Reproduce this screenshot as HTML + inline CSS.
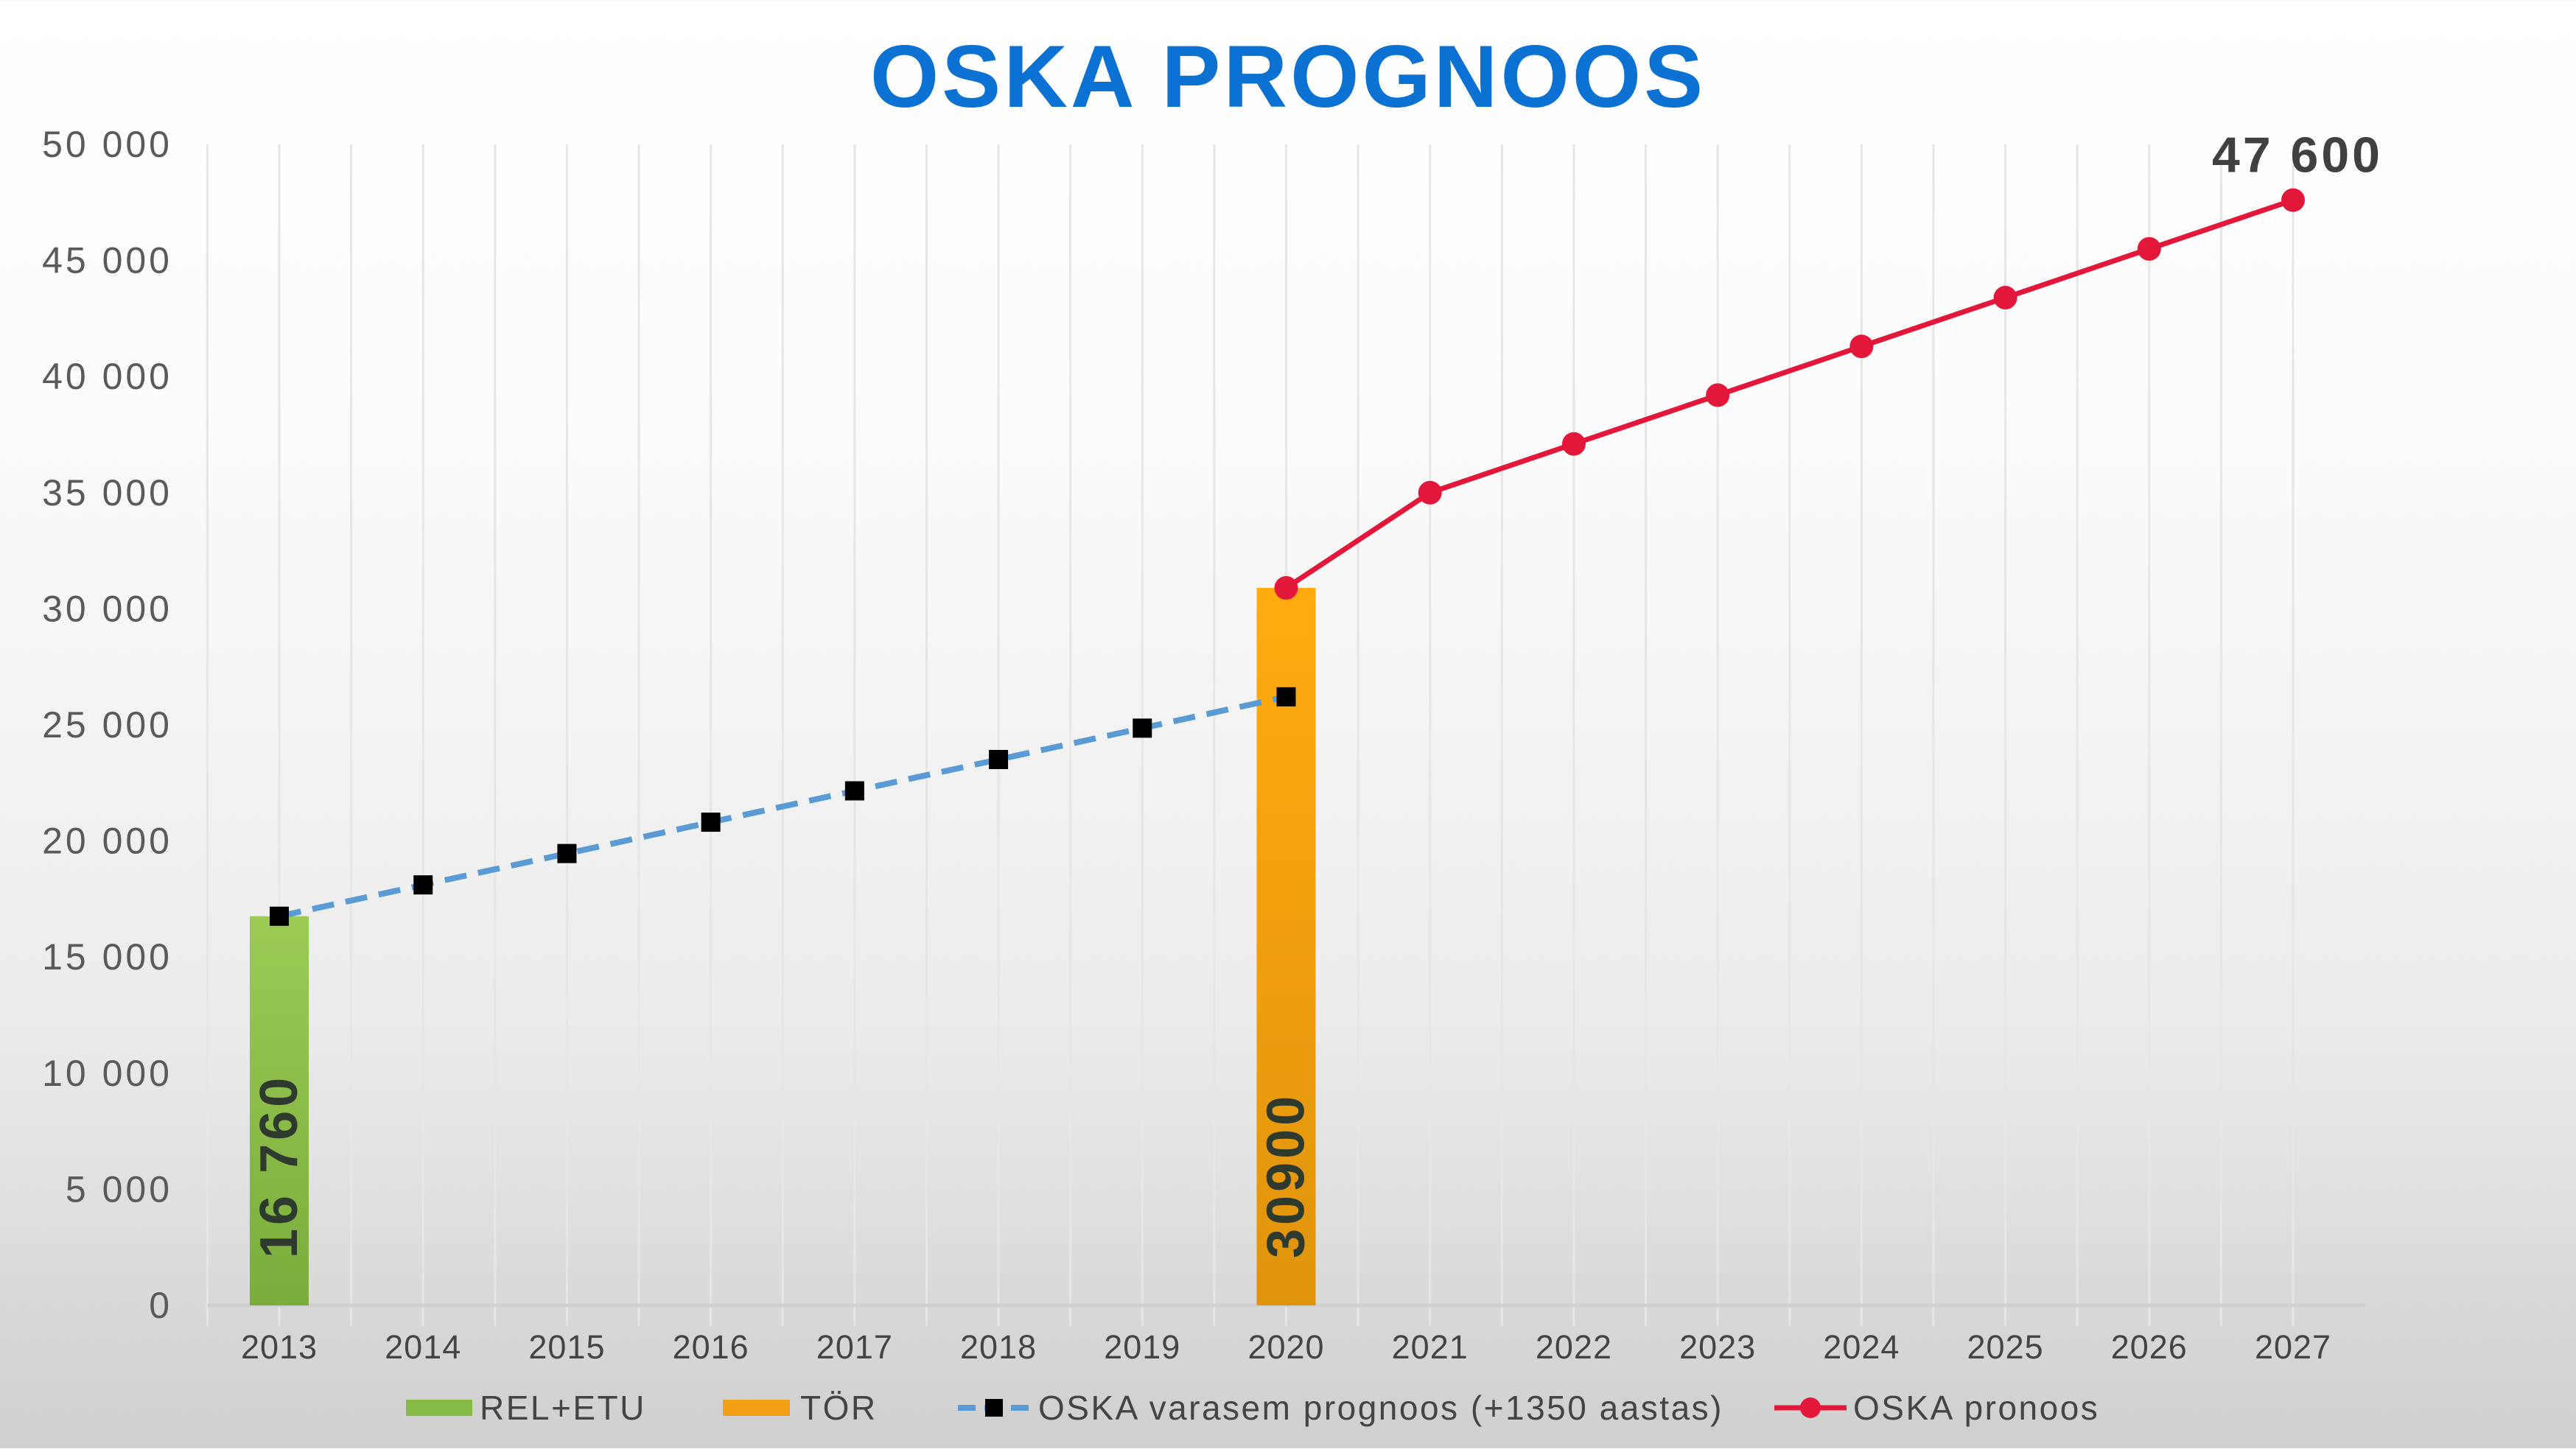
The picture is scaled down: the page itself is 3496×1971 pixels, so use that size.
<!DOCTYPE html>
<html><head><meta charset="utf-8"><style>
html,body{margin:0;padding:0;}
body{width:3496px;height:1966px;overflow:hidden;background:linear-gradient(#ffffff 0%,#fbfbfb 30%,#ececec 70%,#cfcfcf 100%);font-family:"Liberation Sans",sans-serif;}
</style></head><body>
<svg width="3496" height="1966" viewBox="0 0 3496 1966" xmlns="http://www.w3.org/2000/svg" id="chart">
<defs>
<linearGradient id="gg" x1="0" y1="0" x2="0" y2="1"><stop offset="0" stop-color="#9bcb55"/><stop offset="1" stop-color="#7aad3c"/></linearGradient>
<linearGradient id="og" x1="0" y1="0" x2="0" y2="1"><stop offset="0" stop-color="#ffab10"/><stop offset="1" stop-color="#e0940c"/></linearGradient>
</defs>
<text x="1748" y="145" text-anchor="middle" font-size="120" font-weight="600" letter-spacing="4" fill="#0b72d3" font-family="Liberation Sans, sans-serif">OSKA PROGNOOS</text>
<g id="grid"></g><g id="marks"></g><g id="labels"></g>
</svg>
<script>
const years = ["2013","2014","2015","2016","2017","2018","2019","2020","2021","2022","2023","2024","2025","2026","2027"];
const yTicks = [0,5000,10000,15000,20000,25000,30000,35000,40000,45000,50000];
const yTickLabels = ["0","5 000","10 000","15 000","20 000","25 000","30 000","35 000","40 000","45 000","50 000"];
const barRelEtu = [16760];      // 2013
const barTor = [30900];         // 2020
const earlierForecast = [16760,18110,19460,20810,22160,23510,24860,26210]; // 2013-2020
const oskaForecast = [30900,35000,37100,39200,41300,43400,45500,47600];    // 2020-2027

const NS="http://www.w3.org/2000/svg";
const X0=379, DX=(3112-379)/14, Y0=1772, YT=196, YMAX=50000;
const x=i=>X0+i*DX;
const y=v=>Y0-(v/YMAX)*(Y0-YT);
function el(t,a,p){const e=document.createElementNS(NS,t);for(const k in a)e.setAttribute(k,a[k]);p.appendChild(e);return e;}
const grid=document.getElementById('grid'),marks=document.getElementById('marks'),labels=document.getElementById('labels');
for(let k=0;k<=29;k++){const gx=X0-DX/2+k*DX/2;
 const g=el('line',{x1:gx,x2:gx,y1:YT,y2:Y0+28,stroke:'#e6e6e6','stroke-width':3},grid);
 }
const ax=el('line',{x1:X0-DX/2,x2:X0+14.5*DX,y1:Y0,y2:Y0,stroke:'#d0d0d0','stroke-width':5},grid);

yTicks.forEach((v,i)=>{const t=el('text',{x:234,y:y(v)+17,'text-anchor':'end','font-size':50,'letter-spacing':4,fill:'#5a5a5a'},labels);
 t.textContent=yTickLabels[i];});
years.forEach((yr,i)=>{const t=el('text',{x:x(i),y:1844,'text-anchor':'middle','font-size':45,'letter-spacing':1,fill:'#444'},labels);
 t.textContent=yr;});
function bar(i,v,fill,name,label){
 const r=el('rect',{x:x(i)-40,y:y(v),width:80,height:Y0-y(v),fill:fill},marks);
 
 const cx=x(i)+24,cy=Y0-64;
 const t=el('text',{x:cx,y:cy,transform:`rotate(-90 ${cx} ${cy})`,'font-size':72,'font-weight':'bold','letter-spacing':5,fill:'#2f3a2f'},labels);
 t.textContent=label;}
bar(0,barRelEtu[0],'url(#gg)','bar-rel-etu-2013','16 760');
bar(7,barTor[0],'url(#og)','bar-tor-2020','30900');
let d=earlierForecast.map((v,i)=>(i?'L':'M')+x(i)+' '+y(v)).join(' ');
const l1=el('path',{d:d,fill:'none',stroke:'#5b9bd5','stroke-width':8,'stroke-dasharray':'30 16'},marks);

earlierForecast.forEach((v,i)=>{const s=el('rect',{x:x(i)-13,y:y(v)-13,width:26,height:26,fill:'#000'},marks);
 });
d=oskaForecast.map((v,i)=>(i?'L':'M')+x(i+7)+' '+y(v)).join(' ');
const l2=el('path',{d:d,fill:'none',stroke:'#e3173a','stroke-width':7},marks);

oskaForecast.forEach((v,i)=>{const c=el('circle',{cx:x(i+7),cy:y(v),r:16,fill:'#e3173a'},marks);
 });
const last=oskaForecast[oskaForecast.length-1];
const lt=el('text',{x:x(14)+6,y:y(last)-38,'text-anchor':'middle','font-size':68,'font-weight':'bold','letter-spacing':4,fill:'#404040'},labels);
lt.textContent='47 600';
const LY=1911;
function ltext(xx,s,n){const t=el('text',{x:xx,y:LY+16,'font-size':46,'letter-spacing':2.5,fill:'#444'},labels);t.textContent=s;}
let r=el('rect',{x:551,y:LY-11,width:90,height:22,fill:'#86bb45'},labels);
ltext(651,'REL+ETU','legend-rel-etu-label');
r=el('rect',{x:981,y:LY-11,width:91,height:22,fill:'#f2a114'},labels);
ltext(1086,'TÖR','legend-tor-label');
let ll=el('line',{x1:1300,x2:1400,y1:LY,y2:LY,stroke:'#5b9bd5','stroke-width':8,'stroke-dasharray':'24 12'},labels);
r=el('rect',{x:1337,y:LY-12,width:24,height:24,fill:'#000'},labels);
ltext(1409,'OSKA varasem prognoos (+1350 aastas)','legend-earlier-label');
ll=el('line',{x1:2408,x2:2506,y1:LY,y2:LY,stroke:'#e3173a','stroke-width':7},labels);
const lc=el('circle',{cx:2457,cy:LY,r:14,fill:'#e3173a'},labels);
ltext(2515,'OSKA pronoos','legend-oska-label');
</script>
</body></html>
